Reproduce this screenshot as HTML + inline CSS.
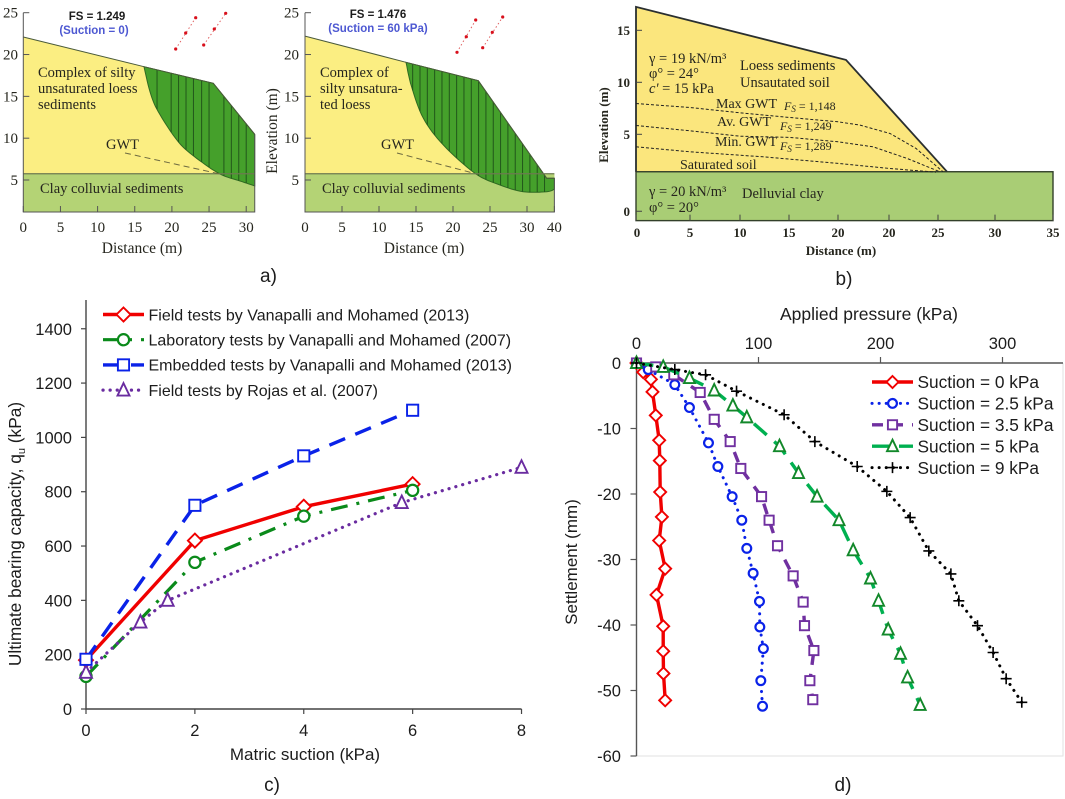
<!DOCTYPE html>
<html lang="en">
<head>
<meta charset="utf-8">
<title>Slope stability and bearing capacity figures</title>
<style>
html,body{margin:0;padding:0;background:#fff;width:1065px;height:799px;overflow:hidden}
svg{display:block}
.serif{font-family:"Liberation Serif",serif;fill:#26261e}
.sans{font-family:"Liberation Sans",sans-serif;fill:#1c1c1c}
</style>
</head>
<body>
<svg id="fig" xmlns="http://www.w3.org/2000/svg" width="1065" height="799" viewBox="0 0 1065 799">
<g id="panelA1"></g>
<g id="panelA2"></g>
<g id="panelB"></g>
<g id="panelC"></g>
<g id="panelD"></g>

<g>
<text class="sans" x="97" y="20" font-size="11.5" font-weight="bold" text-anchor="middle">FS = 1.249</text>
<text class="sans" x="94" y="34" font-size="11.5" font-weight="bold" text-anchor="middle" style="fill:#4d58d2">(Suction = 0)</text>
<text class="serif" x="38" y="77" font-size="14.5">Complex of silty</text>
<text class="serif" x="38" y="93" font-size="14.5">unsaturated loess</text>
<text class="serif" x="38" y="109" font-size="14.5">sediments</text>
<text class="serif" x="106" y="149" font-size="14.5">GWT</text>
<text class="serif" x="40" y="193" font-size="14.5">Clay colluvial sediments</text>
<text class="serif" x="142" y="253" font-size="15.5" text-anchor="middle">Distance (m)</text>
<text class="sans" x="378" y="18" font-size="11.5" font-weight="bold" text-anchor="middle">FS = 1.476</text>
<text class="sans" x="378" y="32" font-size="11.5" font-weight="bold" text-anchor="middle" style="fill:#4d58d2">(Suction = 60 kPa)</text>
<text class="serif" x="320" y="77" font-size="14.5">Complex of</text>
<text class="serif" x="320" y="93" font-size="14.5">silty unsatura-</text>
<text class="serif" x="320" y="109" font-size="14.5">ted loess</text>
<text class="serif" x="381" y="149" font-size="14.5">GWT</text>
<text class="serif" x="322" y="193" font-size="14.5">Clay colluvial sediments</text>
<text class="serif" x="424" y="253" font-size="15.5" text-anchor="middle">Distance (m)</text>
<text class="serif" transform="translate(277,131) rotate(-90)" font-size="15.5" text-anchor="middle">Elevation (m)</text>
<text class="sans" x="260" y="282" font-size="19">a)</text>
</g>

<g>
<text class="serif" x="649" y="63" font-size="14.5">&#947; = 19 kN/m³</text>
<text class="serif" x="649" y="78" font-size="14.5">&#966;° = 24°</text>
<text class="serif" x="649" y="93" font-size="14.5"><tspan font-style="italic">c'</tspan> = 15 kPa</text>
<text class="serif" x="740" y="70" font-size="14.5">Loess sediments</text>
<text class="serif" x="740" y="87" font-size="14.5">Unsautated soil</text>
<text class="serif" x="716" y="108" font-size="14">Max  GWT</text>
<text class="serif" x="784" y="110" font-size="12"><tspan font-style="italic">F<tspan font-size="9" dy="2">S</tspan></tspan><tspan dy="-2"> = 1,148</tspan></text>
<text class="serif" x="717" y="126" font-size="14">Av. GWT</text>
<text class="serif" x="780" y="130" font-size="12"><tspan font-style="italic">F<tspan font-size="9" dy="2">S</tspan></tspan><tspan dy="-2"> = 1,249</tspan></text>
<text class="serif" x="715" y="146" font-size="14">Min. GWT</text>
<text class="serif" x="780" y="150" font-size="12"><tspan font-style="italic">F<tspan font-size="9" dy="2">S</tspan></tspan><tspan dy="-2"> = 1,289</tspan></text>
<text class="serif" x="680" y="169" font-size="14">Saturated soil</text>
<text class="serif" x="649" y="196" font-size="14.5">&#947; = 20 kN/m³</text>
<text class="serif" x="649" y="212" font-size="14.5">&#966;° = 20°</text>
<text class="serif" x="742" y="198" font-size="14.5">Delluvial clay</text>
<text class="serif" x="841" y="255" font-size="13" font-weight="bold" text-anchor="middle">Distance (m)</text>
<text class="serif" transform="translate(608,125) rotate(-90)" font-size="13" font-weight="bold" text-anchor="middle">Elevation (m)</text>
<text class="sans" x="844" y="285" font-size="19" text-anchor="middle">b)</text>
</g>

<g>
<text class="sans" x="305" y="760" font-size="17" text-anchor="middle">Matric suction (kPa)</text>
<text class="sans" transform="translate(21,534) rotate(-90)" font-size="17.3" text-anchor="middle">Ultimate bearing capacity, q<tspan font-size="11" dy="4">u</tspan><tspan dy="-4"> (kPa)</tspan></text>
<text class="sans" x="272" y="791" font-size="19" text-anchor="middle">c)</text>
</g>

<g>
<text class="sans" x="869" y="320" font-size="17.5" text-anchor="middle">Applied pressure (kPa)</text>
<text class="sans" transform="translate(577,562) rotate(-90)" font-size="17" text-anchor="middle">Settlement (mm)</text>
<text class="sans" x="843" y="791" font-size="19" text-anchor="middle">d)</text>
</g>
</svg>

<script>
/* ---------- Chart c data ---------- */
const cXTicks = [0, 2, 4, 6, 8];
const cYTicks = [0, 200, 400, 600, 800, 1000, 1200, 1400];
const fieldX = [0, 2, 4, 6];
const fieldY = [180, 620, 745, 828];
const labX = [0, 2, 4, 6];
const labY = [120, 540, 710, 805];
const embeddedX = [0, 2, 4, 6];
const embeddedY = [183, 750, 932, 1100];
const rojasX = [0, 1, 1.5, 5.8, 8];
const rojasY = [135, 320, 400, 760, 890];
const cLegend = ['Field tests by Vanapalli and Mohamed (2013)', 'Laboratory tests by Vanapalli and Mohamed (2007)', 'Embedded tests by Vanapalli and Mohamed (2013)', 'Field tests by Rojas et al. (2007)'];

/* ---------- Chart d data ---------- */
const dXTicks = [0, 100, 200, 300];
const dYTicks = [0, -10, -20, -30, -40, -50, -60];
const s0X = [0, 5.5, 11.8, 13.1, 15.8, 18.6, 19.1, 19.4, 20.8, 18.6, 23.5, 16.4, 21.9, 21.9, 22.1, 23.5];
const s0Y = [0, -1.4, -2.5, -4.4, -8, -11.8, -14.9, -19.7, -23.5, -27.1, -31.4, -35.4, -40.2, -44, -47.4, -51.5];
const s25X = [0, 9.6, 31.4, 43.4, 59, 66.7, 78.4, 86.3, 90.4, 95.6, 100.8, 101.1, 104, 101.9, 103.3];
const s25Y = [0, -1, -3.3, -6.8, -12.2, -15.8, -20.4, -24, -28.3, -32.1, -36.4, -40.3, -43.6, -48.5, -52.4];
const s35X = [0, 15.8, 30.6, 52.2, 63.7, 76.8, 85.5, 102.5, 108.7, 115.6, 128.4, 136.6, 137.7, 145.4, 142.1, 144.5];
const s35Y = [0, -0.6, -1.8, -4.5, -8.6, -12, -16.1, -20.4, -24, -27.9, -32.5, -36.5, -40.1, -43.9, -48.5, -51.4];
const s5X = [0, 21.9, 43.4, 63.7, 79, 90.4, 117.2, 132.8, 148, 166, 177.6, 191.8, 198.4, 206.3, 216.4, 222.2, 232.5];
const s5Y = [0, -0.6, -2.3, -4.2, -6.5, -8.3, -12.7, -16.8, -20.4, -24, -28.6, -32.9, -36.3, -40.7, -44.4, -48, -52.2];
const s9X = [0, 31.4, 56.6, 82, 121, 146.2, 180.9, 205.2, 224.3, 239.6, 257.7, 264.2, 279.5, 292.3, 303, 315.8];
const s9Y = [0, -1, -1.8, -4.3, -7.9, -12, -15.8, -19.6, -23.6, -28.7, -32.2, -36.3, -40.1, -44.2, -48.2, -51.8];
const dLegend = ['Suction = 0 kPa', 'Suction = 2.5 kPa', 'Suction = 3.5 kPa', 'Suction = 5 kPa', 'Suction = 9 kPa'];

/* ---------- Slope sections (panel a) in metres ---------- */
const a1TickLabels = ['0', '5', '10', '15', '20', '25', '30'];
const a1TickValues = [0, 5, 10, 15, 20, 25, 30];
const a1SurfaceX = [0, 16.24, 25.57, 31.15];
const a1SurfaceY = [22.1, 18.55, 16.56, 10.46];
const a1SlipX = [16.24, 17.05, 18.17, 20.86, 23.33, 26.47, 29.17, 31.15];
const a1SlipY = [18.55, 15.56, 13.16, 9.57, 7.6, 5.72, 4.88, 4.3];
const a1Slices = [18, 19.9, 20.9, 21.9, 22.9, 24, 25, 27, 28, 29, 30];
const a2TickLabels = ['0', '5', '10', '15', '20', '25', '30', '40'];
const a2TickValues = [0, 5, 10, 15, 20, 25, 30, 33.7];
const a2SurfaceX = [0, 13.65, 23.42, 32.66, 33.7];
const a2SurfaceY = [22.2, 19.07, 16.87, 5.2, 5.2];
const a2SlipX = [13.65, 14.4, 16, 18.7, 22.97, 26.35, 29.5, 32.66, 33.7];
const a2SlipY = [19.07, 16.15, 12.37, 9.18, 5.8, 4.4, 3.6, 3.6, 3.9];
const a2Slices = [14.55, 15.54, 16.53, 17.52, 18.51, 19.5, 20.49, 21.48, 22.47, 23.46, 24.45, 25.44, 26.43, 27.42, 28.41, 29.4, 30.39, 31.38, 32.37];
const aYTicks = [5, 10, 15, 20, 25];

/* ---------- Slope section (panel b) ---------- */
const bTickLabels = ['0', '5', '10', '15', '20', '20', '25', '30', '35'];
const bTickValues = [0, 5.4, 10.4, 15.3, 20.2, 25.3, 30.2, 35.9, 41.7];
const bYTickLabels = ['0', '5', '10', '15'];
const bYTickValues = [-2.4, 5, 10, 15];
const bSurfaceX = [0, 21, 31.1];
const bSurfaceY = [17.25, 12.15, 1.4];
const gwtMaxX = [0, 5.4, 10.4, 15.4, 20.2, 22.4, 25.4, 28, 30.7];
const gwtMaxY = [7.96, 7.58, 7.07, 6.62, 6.2, 5.88, 5.08, 3.64, 1.39];
const gwtAvX = [0, 5.4, 10.4, 15.4, 20.2, 23.7, 27.1, 30.4];
const gwtAvY = [5.85, 5.34, 4.82, 4.7, 4.28, 3.8, 2.68, 1.39];
const gwtMinX = [0, 5.4, 12.7, 20.2, 25.4, 30];
const gwtMinY = [3.8, 3.32, 2.84, 2.2, 1.71, 1.36];

const NS = 'http://www.w3.org/2000/svg';
function make(tag, attrs, parent, text) {
  const el = document.createElementNS(NS, tag);
  for (const k in attrs) el.setAttribute(k, attrs[k]);
  if (text !== undefined) el.textContent = text;
  parent.appendChild(el);
  return el;
}
function pts(xs, ys, fx, fy) {
  return xs.map((v, i) => fx(v).toFixed(1) + ',' + fy(ys[i]).toFixed(1)).join(' ');
}
/* Catmull-Rom resampling used only to render the slip surfaces as smooth arcs */
function smoothCurve(xs, ys) {
  const ox = [], oy = [];
  const n = xs.length;
  for (let i = 0; i < n - 1; i++) {
    const a = Math.max(i - 1, 0), b = i, c = i + 1, d = Math.min(i + 2, n - 1);
    for (let k = 0; k < 8; k++) {
      const t = k / 8, t2 = t * t, t3 = t2 * t;
      ox.push(0.5 * (2 * xs[b] + (xs[c] - xs[a]) * t + (2 * xs[a] - 5 * xs[b] + 4 * xs[c] - xs[d]) * t2 + (3 * xs[b] - xs[a] - 3 * xs[c] + xs[d]) * t3));
      oy.push(0.5 * (2 * ys[b] + (ys[c] - ys[a]) * t + (2 * ys[a] - 5 * ys[b] + 4 * ys[c] - ys[d]) * t2 + (3 * ys[b] - ys[a] - 3 * ys[c] + ys[d]) * t3));
    }
  }
  ox.push(xs[n - 1]);
  oy.push(ys[n - 1]);
  return [ox, oy];
}

/* marker drawing */
function marker(kind, cx, cy, color, parent, r) {
  let el;
  const sw = 1.9;
  if (kind === 'diamond') {
    el = make('polygon', {points: [[cx, cy - r - 1], [cx + r + 1, cy], [cx, cy + r + 1], [cx - r - 1, cy]].join(' '), fill: '#fff', stroke: color, 'stroke-width': sw}, parent);
  } else if (kind === 'circle') {
    el = make('circle', {cx: cx, cy: cy, r: r, fill: '#fff', stroke: color, 'stroke-width': sw + .3}, parent);
  } else if (kind === 'square') {
    el = make('rect', {x: cx - r, y: cy - r, width: 2 * r, height: 2 * r, fill: '#fff', stroke: color, 'stroke-width': sw}, parent);
  } else if (kind === 'triangle') {
    el = make('polygon', {points: [[cx, cy - r - 1.5], [cx + r + .5, cy + r], [cx - r - .5, cy + r]].join(' '), fill: '#fff', stroke: color, 'stroke-width': sw}, parent);
  } else {
    el = make('path', {d: 'M' + (cx - r) + ' ' + cy + 'H' + (cx + r) + 'M' + cx + ' ' + (cy - r) + 'V' + (cy + r), fill: 'none', stroke: color, 'stroke-width': 1.6}, parent);
  }
  
  
}
function drawSeries(parent, name, xs, ys, fx, fy, st) {
  const g = make('g', {}, parent);
  
  
  const attrs = {points: pts(xs, ys, fx, fy), fill: 'none', stroke: st.line, 'stroke-width': st.w, 'stroke-linejoin': 'round'};
  if (st.dash) attrs['stroke-dasharray'] = st.dash;
  if (st.cap) attrs['stroke-linecap'] = st.cap;
  const line = make('polyline', attrs, g);
  
  
  xs.forEach((v, i) => marker(st.kind, fx(v), fy(ys[i]), st.marker, g, st.r));
}
function drawLegendEntry(parent, name, x1, x2, y, tx, label, st, fs) {
  const g = make('g', {}, parent);
  
  
  const attrs = {x1: x1, x2: x2, y1: y, y2: y, stroke: st.line, 'stroke-width': st.w};
  if (st.dash) attrs['stroke-dasharray'] = st.legendDash || st.dash;
  if (st.cap) attrs['stroke-linecap'] = st.cap;
  const l = make('line', attrs, g);
  
  
  marker(st.kind, (x1 + x2) / 2, y, st.marker, g, st.r);
  const t = make('text', {class: 'sans', x: tx, y: y + fs * 0.36, 'font-size': fs}, g, label);
  
  
}

/* ---------- Panel c ---------- */
(function () {
  const p = document.getElementById('panelC');
  const fx = v => 86 + v * 54.44;
  const fy = v => 709 - v * 0.2716;
  const axis = make('path', {d: 'M86 300V709H' + fx(8), fill: 'none', stroke: '#444', 'stroke-width': 1.4}, p);
  
  
  cXTicks.forEach(v => {
    const t = make('line', {x1: fx(v), x2: fx(v), y1: 709, y2: 714, stroke: '#444', 'stroke-width': 1.2}, p);
    
    
    const l = make('text', {class: 'sans', x: fx(v), y: 736, 'font-size': 16.5, 'text-anchor': 'middle'}, p, String(v));
    
    
  });
  cYTicks.forEach(v => {
    const t = make('line', {x1: 81, x2: 86, y1: fy(v), y2: fy(v), stroke: '#444', 'stroke-width': 1.2}, p);
    
    
    const l = make('text', {class: 'sans', x: 72, y: fy(v) + 6, 'font-size': 16.5, 'text-anchor': 'end'}, p, String(v));
    
    
  });
  const red = {line: '#f00000', w: 3.4, kind: 'diamond', marker: '#f00000', r: 6};
  const green = {line: '#0a8a1a', w: 3.2, dash: '17 9 3 9', kind: 'circle', marker: '#0a8a1a', r: 5.6};
  const blue = {line: '#0a22e8', w: 3.4, dash: '17 11', kind: 'square', marker: '#0a22e8', r: 5.6};
  const purple = {line: '#6a2ca0', w: 3.2, dash: '0.1 7', cap: 'round', kind: 'triangle', marker: '#6a2ca0', r: 5.5};
  drawSeries(p, 'series-field-vanapalli', fieldX, fieldY, fx, fy, red);
  drawSeries(p, 'series-lab-vanapalli', labX, labY, fx, fy, green);
  drawSeries(p, 'series-rojas', rojasX, rojasY, fx, fy, purple);
  drawSeries(p, 'series-embedded-vanapalli', embeddedX, embeddedY, fx, fy, blue);
  const rows = [[red, 'legend-field-vanapalli'], [green, 'legend-lab-vanapalli'], [blue, 'legend-embedded-vanapalli'], [purple, 'legend-rojas']];
  rows.forEach((row, i) => drawLegendEntry(p, row[1], 103, 144, 314.5 + i * 25.2, 148.5, cLegend[i], row[0], 16));
})();

/* ---------- Panel d ---------- */
(function () {
  const p = document.getElementById('panelD');
  const fx = v => 636.5 + v * 1.22;
  const fy = v => 363 - v * 6.55;
  const frame = make('path', {d: 'M1063 363V756H' + fx(0), fill: 'none', stroke: '#e2e2e2', 'stroke-width': 1}, p);
  
  
  const axis = make('path', {d: 'M1063 363H' + fx(0) + 'V756', fill: 'none', stroke: '#555', 'stroke-width': 1.4}, p);
  
  
  dXTicks.forEach(v => {
    const t = make('line', {x1: fx(v), x2: fx(v), y1: 357, y2: 363, stroke: '#555', 'stroke-width': 1.2}, p);
    
    
    const l = make('text', {class: 'sans', x: fx(v), y: 349, 'font-size': 16.5, 'text-anchor': 'middle'}, p, String(v));
    
    
  });
  dYTicks.forEach(v => {
    const t = make('line', {x1: fx(0) - 6, x2: fx(0), y1: fy(v), y2: fy(v), stroke: '#555', 'stroke-width': 1.2}, p);
    
    
    const l = make('text', {class: 'sans', x: 621, y: fy(v) + 6, 'font-size': 16.5, 'text-anchor': 'end'}, p, String(v));
    
    
  });
  const st0 = {line: '#f00000', w: 3.4, kind: 'diamond', marker: '#f00000', r: 5};
  const st25 = {line: '#0a22e8', w: 3, dash: '0.1 7', cap: 'round', kind: 'circle', marker: '#0a22e8', r: 4.4};
  const st35 = {line: '#7030a0', w: 3.4, dash: '11 9', kind: 'square', marker: '#7030a0', r: 4.6};
  const st5 = {line: '#00b050', w: 3.4, dash: '17 10', kind: 'triangle', marker: '#12882a', r: 5};
  const st9 = {line: '#000', w: 3, dash: '0.1 7', cap: 'round', kind: 'plus', marker: '#000', r: 5.5};
  drawSeries(p, 'series-suction-0', s0X, s0Y, fx, fy, st0);
  drawSeries(p, 'series-suction-2-5', s25X, s25Y, fx, fy, st25);
  drawSeries(p, 'series-suction-3-5', s35X, s35Y, fx, fy, st35);
  drawSeries(p, 'series-suction-5', s5X, s5Y, fx, fy, st5);
  drawSeries(p, 'series-suction-9', s9X, s9Y, fx, fy, st9);
  const rows = [[st0, 'legend-suction-0'], [st25, 'legend-suction-2-5'], [st35, 'legend-suction-3-5'], [st5, 'legend-suction-5'], [st9, 'legend-suction-9']];
  rows.forEach((row, i) => drawLegendEntry(p, row[1], 872, 913, 382 + i * 21.4, 917.5, dLegend[i], row[0], 17.3));
})();

/* ---------- Panel a ---------- */
function drawSection(id, x0, sx, right, surfX, surfY, slipXRaw, slipYRaw, slices, tickVals, tickLabels, yLabelX, gwt, dots, prefix) {
  const p = document.getElementById(id);
  const fx = v => x0 + v * sx;
  const fy = v => 180 - (v - 5) * 8.365;
  const bottom = 212;
  const clayY = fy(5.75);
  const curve = smoothCurve(slipXRaw, slipYRaw);
  const slipX = curve[0], slipY = curve[1];
  const soil = make('polygon', {points: fx(0) + ',' + clayY + ' ' + pts(surfX, surfY, fx, fy) + ' ' + fx(right) + ',' + clayY, fill: '#fbee82'}, p);
  
  
  const clay = make('rect', {x: fx(0), y: clayY, width: fx(right) - fx(0), height: bottom - clayY, fill: '#b4d375'}, p);
  
  
  const top = surfX.map((v, i) => [v, surfY[i]]).filter(q => q[0] >= slipX[0]);
  const slide = make('polygon', {points: top.map(q => fx(q[0]).toFixed(1) + ',' + fy(q[1]).toFixed(1)).join(' ') + ' ' + slipX.slice().reverse().map((v, i) => fx(v).toFixed(1) + ',' + fy(slipY[slipY.length - 1 - i]).toFixed(1)).join(' '), fill: '#45a02b', stroke: '#2f6a22', 'stroke-width': 1}, p);
  
  
  function interp(xs, ys, v) {
    for (let i = 1; i < xs.length; i++) if (v <= xs[i]) return ys[i - 1] + (ys[i] - ys[i - 1]) * (v - xs[i - 1]) / (xs[i] - xs[i - 1]);
    return ys[ys.length - 1];
  }
  slices.forEach(v => {
    const s = make('line', {x1: fx(v), x2: fx(v), y1: fy(interp(surfX, surfY, v)), y2: fy(interp(slipX, slipY, v)), stroke: '#22561b', 'stroke-width': 1}, p);
    
    
  });
  const surface = make('polyline', {points: pts(surfX, surfY, fx, fy), fill: 'none', stroke: '#4a5a3a', 'stroke-width': 1}, p);
  
  
  const clayLine = make('line', {x1: fx(0), x2: fx(right), y1: clayY, y2: clayY, stroke: '#6c7a50', 'stroke-width': 1.2}, p);
  
  
  const g = make('line', {x1: gwt[0], y1: gwt[1], x2: gwt[2], y2: gwt[3], stroke: '#6d6a40', 'stroke-width': 1, 'stroke-dasharray': '6 4'}, p);
  
  
  const axis = make('path', {d: 'M' + fx(0) + ' 12.7V' + bottom + 'H' + fx(right) + 'V' + fy(surfY[surfY.length - 1]), fill: 'none', stroke: '#555', 'stroke-width': 1}, p);
  
  
  tickVals.forEach((v, i) => {
    const t = make('line', {x1: fx(v), x2: fx(v), y1: bottom - 6, y2: bottom, stroke: '#555', 'stroke-width': 1}, p);
    
    
    const l = make('text', {class: 'serif', x: fx(v), y: 232, 'font-size': 15, 'text-anchor': 'middle'}, p, tickLabels[i]);
    
    
  });
  aYTicks.forEach(v => {
    const t = make('line', {x1: fx(0), x2: fx(0) + 6, y1: fy(v), y2: fy(v), stroke: '#555', 'stroke-width': 1}, p);
    
    
    const l = make('text', {class: 'serif', x: yLabelX, y: fy(v) + 5, 'font-size': 15, 'text-anchor': 'end'}, p, String(v));
    
    
  });
  dots.forEach(d => {
    const seg = make('line', {x1: d[0], y1: d[1], x2: d[4], y2: d[5], stroke: '#e06060', 'stroke-width': 1, 'stroke-dasharray': '1.5 2.5'}, p);
    
    
    for (let i = 0; i < 6; i += 2) {
      const c = make('circle', {cx: d[i], cy: d[i + 1], r: 1.6, fill: '#d8101c'}, p);
      
      
    }
  });
}
drawSection('panelA1', 23.3, 7.43, 31.15, a1SurfaceX, a1SurfaceY, a1SlipX, a1SlipY, a1Slices, a1TickValues, a1TickLabels, 18,
  [125, 153, 220, 174], [[175.7, 49, 185.7, 33, 195.7, 17.7], [203.7, 45, 214.3, 29, 225.7, 13.3]], 'section-left');
drawSection('panelA2', 305, 7.4, 33.7, a2SurfaceX, a2SurfaceY, a2SlipX, a2SlipY, a2Slices, a2TickValues, a2TickLabels, 299,
  [397, 153, 473, 173], [[457, 52.3, 466.3, 36.7, 475.7, 20], [482.7, 47.7, 492.3, 32.3, 502.7, 17]], 'section-right');

/* ---------- Panel b ---------- */
(function () {
  const p = document.getElementById('panelB');
  const fx = v => 636 + v * 10;
  const fy = v => 186.3 - v * 10.4;
  const clayTop = 1.4, clayBottom = -3.3, right = 41.7;
  const soil = make('polygon', {points: fx(0) + ',' + fy(clayTop) + ' ' + pts(bSurfaceX, bSurfaceY, fx, fy), fill: '#fbe67d'}, p);
  
  
  const clay = make('rect', {x: fx(0), y: fy(clayTop), width: fx(right) - fx(0), height: fy(clayBottom) - fy(clayTop), fill: '#a9cd75', stroke: '#33402a', 'stroke-width': 1.4}, p);
  
  
  const outline = make('polyline', {points: fx(0) + ',' + fy(clayTop) + ' ' + pts(bSurfaceX, bSurfaceY, fx, fy), fill: 'none', stroke: '#2a2f30', 'stroke-width': 1.8}, p);
  
  
  [[gwtMaxX, gwtMaxY, 'gwt-max-line'], [gwtAvX, gwtAvY, 'gwt-average-line'], [gwtMinX, gwtMinY, 'gwt-min-line']].forEach(r => {
    const l = make('polyline', {points: pts(r[0], r[1], fx, fy), fill: 'none', stroke: '#222', 'stroke-width': 1, 'stroke-dasharray': '3 2'}, p);
    
    
  });
  bTickValues.forEach((v, i) => {
    const t = make('line', {x1: fx(v), x2: fx(v), y1: fy(clayBottom) - 6, y2: fy(clayBottom), stroke: '#444', 'stroke-width': 1}, p);
    
    
    const l = make('text', {class: 'serif', x: fx(v) + (i === 0 ? 1 : 0), y: 237, 'font-size': 13, 'font-weight': 'bold', 'text-anchor': 'middle'}, p, bTickLabels[i]);
    
    
  });
  bYTickValues.forEach((v, i) => {
    const t = make('line', {x1: fx(0), x2: fx(0) + 6, y1: fy(v), y2: fy(v), stroke: '#444', 'stroke-width': 1}, p);
    
    
    const l = make('text', {class: 'serif', x: 630, y: fy(v) + 4.5, 'font-size': 13, 'font-weight': 'bold', 'text-anchor': 'end'}, p, bYTickLabels[i]);
    
    
  });
})();
</script>
</body>
</html>
